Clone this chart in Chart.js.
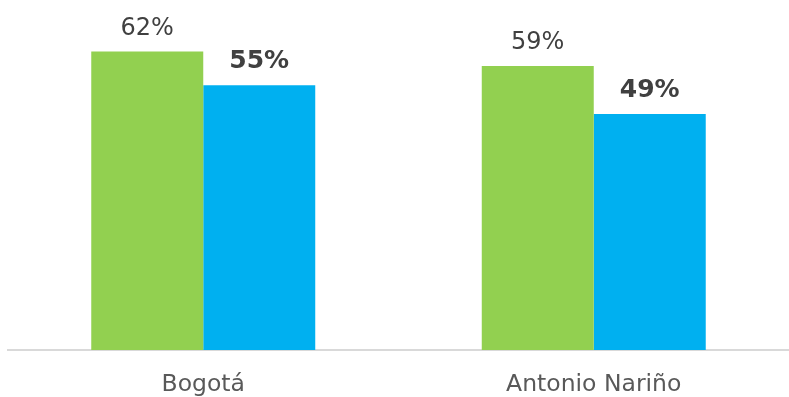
<!DOCTYPE html>
<html>
<head>
<meta charset="utf-8">
<script src="https://cdn.jsdelivr.net/npm/chart.js@4/dist/chart.umd.min.js"></script>
<style>
html,body{margin:0;padding:0;background:#fff;}
#wrap{width:789px;height:397px;position:relative;}
</style>
</head>
<body>
<div id="wrap"><canvas id="c"></canvas></div>
<script>
const categories = ["Bogotá", "Antonio Nariño"];
const seriesGreen = [62, 59];
const seriesBlue = [55, 49];

const FONT = "'DejaVu Sans', sans-serif";

const labelPlugin = {
  id: 'barLabels',
  afterDatasetsDraw(chart) {
    const ctx = chart.ctx;
    chart.data.datasets.forEach((ds, di) => {
      const meta = chart.getDatasetMeta(di);
      meta.data.forEach((bar, i) => {
        ctx.save();
        ctx.font = (ds.labelBold ? 'bold 25px ' : '24px ') + FONT;
        ctx.fillStyle = ds.labelColor;
        ctx.textAlign = 'center';
        ctx.textBaseline = 'alphabetic';
        ctx.fillText(ds.data[i] + '%', bar.x, bar.y - 17);
        ctx.restore();
      });
    });
  }
};

new Chart(document.getElementById('c'), {
  type: 'bar',
  data: {
    labels: categories,
    datasets: [
      { data: seriesGreen, backgroundColor: '#92D050', labelColor: '#404040', labelBold: false },
      { data: seriesBlue, backgroundColor: '#00B0F0', labelColor: '#404040', labelBold: true }
    ]
  },
  options: {
    responsive: true,
    maintainAspectRatio: false,
    animation: false,
    events: [],
    categoryPercentage: 0.5736,
    barPercentage: 1.0,
    layout: { padding: { left: 8, right: 0, top: 13, bottom: 0 } },
    plugins: { legend: { display: false }, tooltip: { enabled: false } },
    scales: {
      y: { display: false, min: 0, max: 70 },
      x: {
        grid: { display: false, drawTicks: false },
        border: { display: true, color: '#D9D9D9', width: 2 },
        ticks: { color: '#595959', font: { family: FONT, size: 23.5 }, padding: 21 },
        afterFit(scale) { scale.height = 47; }
      }
    }
  },
  plugins: [labelPlugin]
});
</script>
</body>
</html>
